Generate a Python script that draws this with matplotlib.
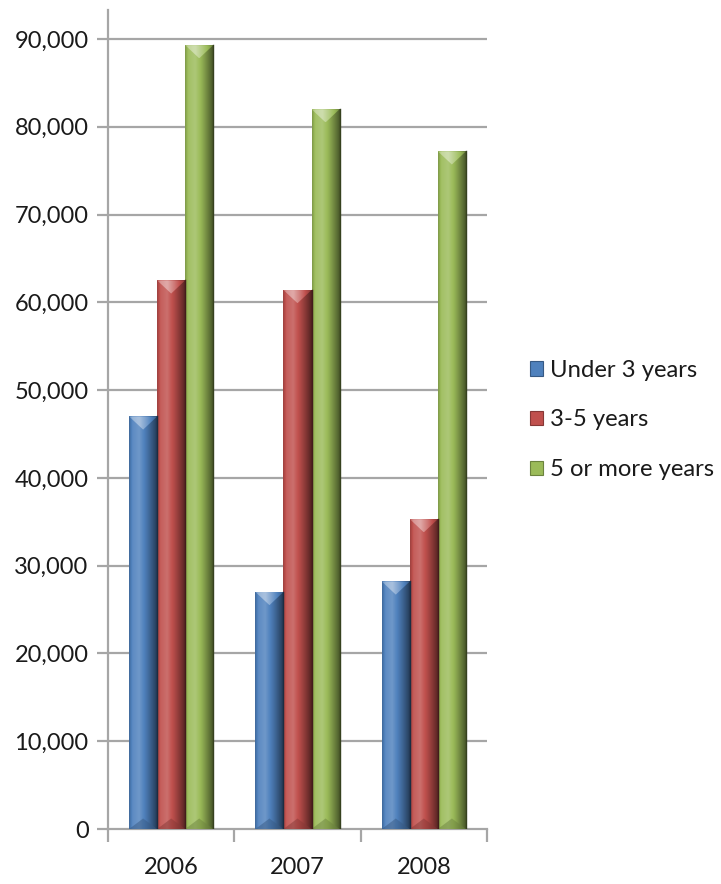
import numpy as np
import matplotlib
matplotlib.use("Agg")
import matplotlib.pyplot as plt
from matplotlib.colors import to_rgb
from matplotlib.patches import Polygon, Rectangle

years = ['2006', '2007', '2008']
series_names = ['Under 3 years', '3-5 years', '5 or more years']
under3 = [47000, 27000, 28200]
y3to5 = [62500, 61400, 35300]
y5plus = [89300, 82000, 77200]
values = [under3, y3to5, y5plus]
colors = ['#4F81BD', '#C0504D', '#9BBB59']
yticks = list(range(0, 90001, 10000))

plt.rcParams['font.family'] = ['Lato', 'DejaVu Sans']

W, H = 721, 884
fig = plt.figure(figsize=(W / 100, H / 100), dpi=100)
ax_top_px = 10
ax = fig.add_axes([108 / W, 1 - 829 / H, (487 - 108) / W, (829 - ax_top_px) / H])
ymax = 90000 * (829 - ax_top_px) / (829 - 39)
ax.set_ylim(0, ymax)
ax.set_xlim(-0.5, len(years) - 0.5)

grid_c = '#A6A6A6'
for t in yticks[1:]:
    ax.axhline(t, color=grid_c, lw=1.6, zorder=0)

bw = 0.222
offsets = [-bw, 0, bw]


def shade(rgb, f):
    rgb = np.array(rgb)
    if f >= 1:
        return np.clip(rgb + (1 - rgb) * (f - 1), 0, 1)
    return rgb * f

prof_t = [0.0, 0.12, 0.35, 0.62, 0.85, 1.0]
prof_f = [0.82, 1.08, 1.18, 0.9, 0.62, 0.42]
tt = np.linspace(0, 1, 64)
ff = np.interp(tt, prof_t, prof_f)

for si, (vals, col) in enumerate(zip(values, colors)):
    base = to_rgb(col)
    grad = np.array([[shade(base, f) for f in ff]])
    bars = ax.bar(np.arange(len(years)) + offsets[si], vals, width=bw,
                  color=col, zorder=2, linewidth=0)
    for b in bars:
        x0, w, h = b.get_x(), b.get_width(), b.get_height()
        im = ax.imshow(grad, extent=[x0, x0 + w, 0, h], aspect='auto',
                       zorder=3, interpolation='bilinear')
        im.set_clip_path(b)
        d = 1500
        tri_grad = np.array([[shade(base, min(f * 1.1 + 0.22, 1.5)) for f in ff]])
        tri = Polygon([[x0, h], [x0 + w, h], [x0 + w / 2, h - d]], closed=True,
                      facecolor='none', edgecolor='none', transform=ax.transData)
        ax.add_patch(tri)
        im2 = ax.imshow(tri_grad, extent=[x0, x0 + w, h - d, h], aspect='auto',
                        zorder=4, interpolation='bilinear')
        im2.set_clip_path(tri)
        tri_b = Polygon([[x0, 0], [x0 + w, 0], [x0 + w / 2, d * 0.8]], closed=True,
                        facecolor=shade(base, 0.7), edgecolor='none', alpha=0.5,
                        zorder=4)
        ax.add_patch(tri_b)
        ax.plot([x0 + w, x0 + w], [0, h], color=shade(base, 0.35), lw=1, zorder=5)

ax.set_xticks(np.arange(-0.5, len(years), 1.0))
ax.set_xticklabels([])
ax.set_xticks(np.arange(len(years)), labels=years, minor=True)
ax.tick_params(axis='x', which='major', length=9, width=1.6, color=grid_c, direction='out')
ax.tick_params(axis='x', which='minor', length=0, pad=20, labelsize=17, labelcolor='#1a1a1a')
ax.set_yticks(yticks, labels=[f'{v:,}' for v in yticks])
ax.tick_params(axis='y', length=8, width=1.6, color=grid_c, pad=6, labelsize=17,
               labelcolor='#1a1a1a')
for s in ['top', 'right']:
    ax.spines[s].set_visible(False)
for s in ['left', 'bottom']:
    ax.spines[s].set_color(grid_c)
    ax.spines[s].set_linewidth(1.6)
ax.set_facecolor('none')

handles = [Rectangle((0, 0), 1, 1, facecolor=c, edgecolor=shade(to_rgb(c), 0.7), lw=0.8)
           for c in colors]
leg = fig.legend(handles, series_names, loc='center left',
                 bbox_to_anchor=(508 / W, 1 - 420 / H), frameon=False,
                 fontsize=17.2, handlelength=0.55, handleheight=0.55,
                 handletextpad=0.3, labelspacing=1.2, labelcolor='#1a1a1a')

fig.savefig('out.png', dpi=100)
